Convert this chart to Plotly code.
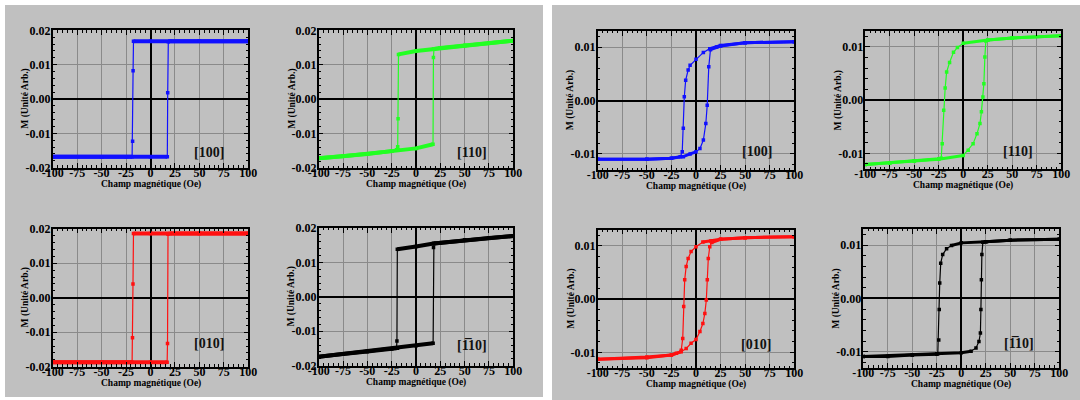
import plotly.graph_objects as go

W, H = 1080, 400
PANEL = "#c0c0c0"
SERIF = "Liberation Serif"

# ---------------- left panel : square loops ----------------
# [100]
sq100_down_H = [100, 50, 0, -17.4, -17.8, -18.3, -18.8, -25, -50, -100]
sq100_down_M = [0.0168, 0.0168, 0.0168, 0.0168, 0.0082, -0.0123, -0.0168, -0.0168, -0.0168, -0.0168]
sq100_up_H = [-100, -50, 0, 17.2, 17.6, 18.2, 20, 50, 100]
sq100_up_M = [-0.0168, -0.0168, -0.0168, -0.0168, 0.0018, 0.0167, 0.0168, 0.0168, 0.0168]

# [110]
sq110_down_H = [100, 75, 50, 25, 18, 0, -18, -18.4, -18.8, -20, -25, -50, -75, -100]
sq110_down_M = [0.0170, 0.0163, 0.0156, 0.0149, 0.0146, 0.0140, 0.0130, -0.0057, -0.0138, -0.0147, -0.0151, -0.0159, -0.0166, -0.0172]
sq110_up_H = [-100, -75, -50, -25, -18, 0, 17.5, 17.9, 18.5, 25, 50, 75, 100]
sq110_up_M = [-0.0172, -0.0166, -0.0159, -0.0151, -0.0148, -0.0143, -0.0131, 0.0121, 0.0146, 0.0149, 0.0156, 0.0163, 0.0170]

# [010]
sq010_down_H = [100, 50, 0, -17.4, -17.9, -18.4, -18.8, -50, -100]
sq010_down_M = [0.0186, 0.0186, 0.0186, 0.0186, 0.0040, -0.0116, -0.0187, -0.0187, -0.0187]
sq010_up_H = [-100, -50, 0, 17.0, 17.4, 17.9, 20, 50, 100]
sq010_up_M = [-0.0187, -0.0187, -0.0187, -0.0187, -0.0133, 0.0184, 0.0186, 0.0186, 0.0186]

# [-110]
sqm110_down_H = [100, 75, 50, 25, 18, 0, -19.2, -19.6, -20, -25, -50, -75, -100]
sqm110_down_M = [0.0177, 0.0171, 0.0165, 0.0157, 0.0155, 0.0146, 0.0138, -0.0128, -0.0149, -0.0151, -0.0159, -0.0166, -0.0174]
sqm110_up_H = [-100, -75, -50, -25, -19, 0, 17.6, 18.0, 18.4, 25, 50, 75, 100]
sqm110_up_M = [-0.0174, -0.0166, -0.0159, -0.0151, -0.0149, -0.0142, -0.0135, 0.0143, 0.0155, 0.0157, 0.0165, 0.0171, 0.0177]

# ---------------- right panel : rounded loops ----------------
# [100]
rd100_down_H = [100, 50, 25, 14, 7.5, 0, -6, -8, -10.5, -11.9, -12.9, -14, -16, -25, -50, -100]
rd100_down_M = [0.0110, 0.0108, 0.0103, 0.0097, 0.0090, 0.0077, 0.0066, 0.0057, 0.0038, 0.0007, -0.0052, -0.0096, -0.0105, -0.0108, -0.0110, -0.0110]
rd100_up_H = [-100, -50, -25, -12.9, -6, 0, 4, 7.5, 10, 11.4, 13, 14.7, 21, 25, 50, 100]
rd100_up_M = [-0.0110, -0.0110, -0.0108, -0.0105, -0.0100, -0.0096, -0.0090, -0.0074, -0.0043, -0.0009, 0.0063, 0.0095, 0.0100, 0.0102, 0.0108, 0.0110]

# [110]
rd110_down_H = [100, 50, 25, 0, -6, -10, -14, -17, -18.5, -20, -21.5, -22.5, -25, -50, -75, -100]
rd110_down_M = [0.0121, 0.0117, 0.0113, 0.0107, 0.0099, 0.0090, 0.0071, 0.0053, 0.0023, -0.0019, -0.0082, -0.0109, -0.0110, -0.0114, -0.0118, -0.0121]
rd110_up_H = [-100, -75, -50, -25, 0, 5, 10, 14, 17, 18.5, 20, 21, 22, 23, 25, 50, 100]
rd110_up_M = [-0.0121, -0.0118, -0.0115, -0.0111, -0.0104, -0.0094, -0.0082, -0.0063, -0.0044, -0.0022, 0.0006, 0.0031, 0.0081, 0.0111, 0.0113, 0.0117, 0.0121]

# [010]
rd010_down_H = [100, 50, 25, 15, 7, 0, -5, -8, -10, -11.5, -12.5, -13.5, -15, -20, -25, -50, -100]
rd010_down_M = [0.0117, 0.0115, 0.0112, 0.0109, 0.0107, 0.0098, 0.0089, 0.0076, 0.0061, 0.0036, -0.0014, -0.0074, -0.0096, -0.0102, -0.0105, -0.0109, -0.0113]
rd010_up_H = [-100, -50, -25, -15, -10, -5, 0, 4, 7, 9, 10.5, 11.5, 12.5, 14, 16, 25, 50, 100]
rd010_up_M = [-0.0113, -0.0110, -0.0105, -0.0099, -0.0093, -0.0083, -0.0076, -0.0061, -0.0046, -0.0027, -0.0002, 0.0036, 0.0076, 0.0098, 0.0106, 0.0112, 0.0115, 0.0117]

# [-110]
rdm110_down_H = [100, 50, 25, 0, -10, -15, -19, -21, -22, -22.5, -23, -24, -25, -50, -75, -100]
rdm110_down_M = [0.0111, 0.0109, 0.0106, 0.0104, 0.0099, 0.0093, 0.0082, 0.0066, 0.0029, -0.0021, -0.0078, -0.0104, -0.0105, -0.0106, -0.0109, -0.0109]
rdm110_up_H = [-100, -50, -25, 0, 10, 15, 18, 19.5, 20, 20.5, 21, 22, 25, 50, 100]
rdm110_up_M = [-0.0109, -0.0106, -0.0104, -0.0102, -0.0099, -0.0093, -0.0081, -0.0065, -0.0021, 0.0035, 0.0082, 0.0105, 0.0106, 0.0109, 0.0111]

# ---------------- axes ticks ----------------
x_ticks = [-100, -75, -50, -25, 0, 25, 50, 75, 100]
x_ticktext = ["-100", "-75", "-50", "-25", "0", "25", "50", "75", "100"]
y_ticks_left = [-0.02, -0.01, 0.0, 0.01, 0.02]
y_ticktext_left = ["-0.02", "-0.01", "0.00", "0.01", "0.02"]
y_ticks_right = [-0.01, 0.0, 0.01]
y_ticktext_right = ["-0.01", "0.00", "0.01"]

x_title = "Champ magnétique (Oe)"
y_title = "M (Unité Arb.)"

BLUE, GREEN, RED, BLACK = "#1010ff", "#22ff22", "#ff1010", "#000000"

# each entry: branches, colour, label, plot box in pixels (left, top, right, bottom),
# y half range, y ticks, label position (data units), band width
plots = [
    dict(down=(sq100_down_H, sq100_down_M), up=(sq100_up_H, sq100_up_M), color=BLUE, label="[100]",
         box=(52.7, 30.3, 248.3, 167.7), yr=0.02, yt=(y_ticks_left, y_ticktext_left), lab=(60, -0.0155), band=4),
    dict(down=(sq110_down_H, sq110_down_M), up=(sq110_up_H, sq110_up_M), color=GREEN, label="[110]",
         box=(318.7, 30.3, 513.3, 168.0), yr=0.02, yt=(y_ticks_left, y_ticktext_left), lab=(57.6, -0.0155), band=4),
    dict(down=(sq010_down_H, sq010_down_M), up=(sq010_up_H, sq010_up_M), color=RED, label="[010]",
         box=(52.7, 228.7, 248.3, 366.7), yr=0.02, yt=(y_ticks_left, y_ticktext_left), lab=(60, -0.0134), band=4),
    dict(down=(sqm110_down_H, sqm110_down_M), up=(sqm110_up_H, sqm110_up_M), color=BLACK, label="[1\u030510]",
         box=(318.7, 228.0, 513.3, 365.7), yr=0.02, yt=(y_ticks_left, y_ticktext_left), lab=(57.6, -0.0140), band=4),
    dict(down=(rd100_down_H, rd100_down_M), up=(rd100_up_H, rd100_up_M), color=BLUE, label="[100]",
         box=(597.7, 31.0, 794.3, 170.0), yr=0.013, yt=(y_ticks_right, y_ticktext_right), lab=(61.7, -0.0096), band=3),
    dict(down=(rd110_down_H, rd110_down_M), up=(rd110_up_H, rd110_up_M), color=GREEN, label="[110]",
         box=(865.3, 31.0, 1061.3, 169.3), yr=0.013, yt=(y_ticks_right, y_ticktext_right), lab=(55.8, -0.0097), band=3),
    dict(down=(rd010_down_H, rd010_down_M), up=(rd010_up_H, rd010_up_M), color=RED, label="[010]",
         box=(597.7, 229.7, 794.3, 368.3), yr=0.013, yt=(y_ticks_right, y_ticktext_right), lab=(61.4, -0.0085), band=3),
    dict(down=(rdm110_down_H, rdm110_down_M), up=(rdm110_up_H, rdm110_up_M), color=BLACK, label="[1\u030510]",
         box=(863.3, 229.0, 1059.3, 367.7), yr=0.013, yt=(y_ticks_right, y_ticktext_right), lab=(59.2, -0.0084), band=3),
]


def flat_parts(h, m, limit=8e-5):
    """Keep only the gently sloped segments of a branch (saturation plateaus)."""
    xs, ys = [], []
    for i in range(len(h) - 1):
        slope = abs((m[i + 1] - m[i]) / (h[i + 1] - h[i]))
        if slope < limit:
            if xs and xs[-1] == h[i] and ys[-1] == m[i]:
                xs.append(h[i + 1]); ys.append(m[i + 1])
            else:
                if xs:
                    xs.append(None); ys.append(None)
                xs += [h[i], h[i + 1]]; ys += [m[i], m[i + 1]]
    return xs, ys


fig = go.Figure()
layout = dict(
    template="none",
    width=W, height=H, margin=dict(l=0, r=0, t=0, b=0, pad=0, autoexpand=False),
    paper_bgcolor="white", plot_bgcolor=PANEL, showlegend=False,
    font=dict(family=SERIF, color="black"),
    shapes=[
        dict(type="rect", xref="paper", yref="paper", x0=5 / W, x1=543 / W, y0=1 - 397 / H, y1=1 - 5 / H,
             fillcolor=PANEL, line=dict(width=0), layer="below"),
        dict(type="rect", xref="paper", yref="paper", x0=552 / W, x1=1.0, y0=0, y1=1 - 5 / H,
             fillcolor=PANEL, line=dict(width=0), layer="below"),
    ],
    annotations=[],
)

tick_font = dict(family=SERIF, size=12, color="black", weight="bold")

for i, p in enumerate(plots, start=1):
    suffix = "" if i == 1 else str(i)
    xa, ya = "x" + suffix, "y" + suffix
    left, top, right, bottom = p["box"]
    for h, m in (p["down"], p["up"]):
        bx, by = flat_parts(h, m)
        fig.add_trace(go.Scatter(x=bx, y=by, xaxis=xa, yaxis=ya, mode="lines",
                                 line=dict(color=p["color"], width=p["band"]), hoverinfo="skip"))
        fig.add_trace(go.Scatter(x=h, y=m, xaxis=xa, yaxis=ya, mode="lines+markers",
                                 line=dict(color=p["color"], width=1.2),
                                 marker=dict(symbol="square", size=3.5, color=p["color"])))
    axis_common = dict(
        automargin=False,
        showline=True, linecolor="black", linewidth=1.5, mirror="allticks",
        ticks="inside", ticklen=5, tickwidth=1, tickcolor="black",
        showgrid=True, gridcolor="#8a8a8a", gridwidth=1.3,
        zeroline=True, zerolinecolor="black",
        tickfont=tick_font, tickmode="array",
    )
    layout["xaxis" + suffix] = dict(
        axis_common, domain=[left / W, right / W], anchor=ya, range=[-100, 100],
        tickvals=x_ticks, ticktext=x_ticktext, zerolinewidth=2.2, ticklabelstandoff=-7,
        minor=dict(ticks="inside", ticklen=2.5, tickcolor="black", dtick=5, tick0=0, showgrid=False),
    )
    layout["yaxis" + suffix] = dict(
        axis_common, domain=[1 - bottom / H, 1 - top / H], anchor=xa, range=[-p["yr"], p["yr"]],
        tickvals=p["yt"][0], ticktext=p["yt"][1], zerolinewidth=1.6, ticklabelstandoff=-2,
        minor=dict(ticks="inside", ticklen=2.5, tickcolor="black", dtick=0.002, tick0=0, showgrid=False),
    )
    layout["annotations"] += [
        dict(text=x_title, xref=f"{xa} domain", yref=f"{ya} domain", x=0.5, y=0, yshift=-16.5,
             showarrow=False, xanchor="center", yanchor="middle",
             font=dict(family=SERIF, size=9.5, color="black", weight="bold")),
        dict(text=y_title, xref=f"{xa} domain", yref=f"{ya} domain", x=0, y=0.5, xshift=-27,
             showarrow=False, textangle=-90, xanchor="center", yanchor="middle",
             font=dict(family=SERIF, size=9.5, color="black", weight="bold")),
        dict(text=p["label"], xref=xa, yref=ya, x=p["lab"][0], y=p["lab"][1],
             showarrow=False, xanchor="center", yanchor="middle",
             font=dict(family=SERIF, size=14, color="#111111", weight="bold")),
    ]

fig.update_layout(**layout)
fig.write_html("out.html")
